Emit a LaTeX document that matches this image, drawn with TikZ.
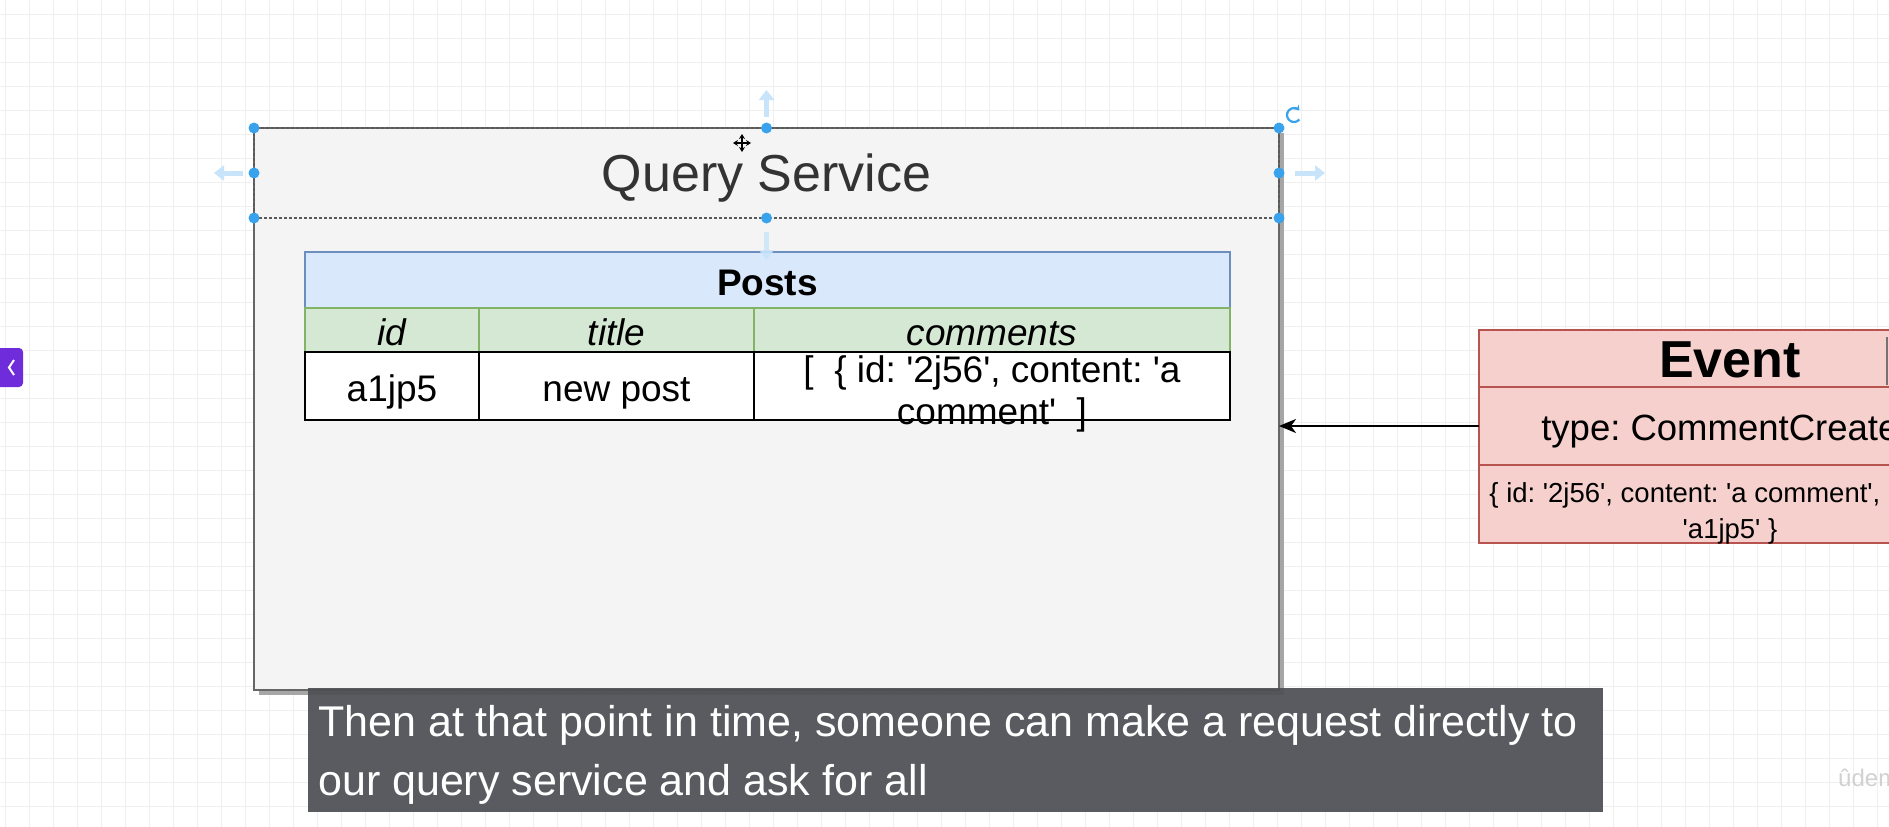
\documentclass[tikz,border=0pt]{standalone}
\usepackage{fontspec}
\setmainfont{Liberation Sans}[Ligatures=TeXOff]
\usetikzlibrary{positioning,arrows.meta,shadows}
\frenchspacing

\definecolor{gridgray}{RGB}{239,239,239}
\definecolor{swimfill}{RGB}{244,244,244}
\definecolor{swimline}{RGB}{102,102,102}
\definecolor{bluefill}{RGB}{218,232,252}
\definecolor{blueline}{RGB}{108,142,191}
\definecolor{greenfill}{RGB}{213,232,212}
\definecolor{greenline}{RGB}{130,179,102}
\definecolor{redfill}{RGB}{245,208,204}
\definecolor{redline}{RGB}{184,84,80}
\definecolor{handle}{RGB}{56,163,236}
\definecolor{hint}{RGB}{200,228,250}
\definecolor{capbg}{RGB}{78,79,84}
\definecolor{tabpurple}{RGB}{110,44,218}

\tikzset{
  cell/.style={draw,inner sep=0pt,outer sep=0pt,align=center,anchor=north west},
  celltext/.style={text height=31.5bp,text depth=0pt},
  posthead/.style={cell,celltext,fill=bluefill,draw=blueline,line width=1.5bp,font=\fontsize{37bp}{44bp}\selectfont\bfseries},
  colhead/.style={cell,celltext,fill=greenfill,draw=greenline,line width=1.5bp,font=\fontsize{37bp}{44bp}\selectfont\itshape},
  datacell/.style={cell,celltext,fill=white,draw=black,line width=2bp,font=\fontsize{37bp}{42bp}\selectfont},
  evpart/.style={cell,fill=redfill,draw=redline,line width=2bp},
  hintarrow/.style={hint,line width=5bp,-{Triangle[length=10bp,width=15bp]}},
}

\begin{document}
\frenchspacing
\begin{tikzpicture}[x=1bp,y=-1bp]
\useasboundingbox (0,0) rectangle (1889,827);
\clip (0,0) rectangle (1889,827);
\fill[white] (0,0) rectangle (1889,827);
% grid
\foreach \gx in {5,29,...,1889} \draw[gridgray,line width=1bp] (\gx,0) -- (\gx,827);
\foreach \gy in {14,38,...,827} \draw[gridgray,line width=1bp] (0,\gy) -- (1889,\gy);

% query service
\node[cell,fill=swimfill,draw=swimline,line width=2bp,minimum width=1025bp,minimum height=562bp,
  drop shadow={shadow xshift=5bp,shadow yshift=-5bp,fill=black!35,opacity=1}] (qs) at (254,128) {};
\node[cell,preaction={draw=black!22,line width=2.5bp},draw=black!65,dash pattern=on 3bp off 2bp,line width=1.5bp,
  minimum width=1025bp,minimum height=90bp,text height=37bp,text depth=0pt,
  text=black!80,font=\fontsize{52bp}{60bp}\selectfont] (qtitle) at (254,128) {Query Service};

% posts table
\node[posthead,minimum width=925bp,minimum height=56bp] (posts) at (305,252) {Posts};
\node[colhead,minimum width=174bp,minimum height=44bp] (hid) at (305,308) {id};
\node[colhead,minimum width=275bp,minimum height=44bp] (htitle) at (479,308) {title};
\node[colhead,minimum width=476bp,minimum height=44bp] (hcomments) at (754,308) {comments};
\node[datacell,minimum width=174bp,minimum height=68bp] (vid) at (305,352) {a1jp5};
\node[datacell,minimum width=275bp,minimum height=68bp] (vtitle) at (479,352) {new post};
\node[datacell,minimum width=476bp,minimum height=68bp] (vcomments) at (754,352) {};
\node[inner sep=0pt,align=center,font=\fontsize{37bp}{42bp}\selectfont,yshift=-8bp] (vctext) at (vcomments.center)
  {[\ \ \{ id: '2j56', content: 'a\\comment'\ \ ]};

% event
\node[evpart,minimum width=502bp,minimum height=57bp,text height=37.5bp,text depth=0pt,
  font=\fontsize{52bp}{60bp}\selectfont\bfseries] (evtitle) at (1479,330) {Event};
\node[evpart,minimum width=502bp,minimum height=78bp,text height=28bp,text depth=0pt,
  font=\fontsize{36.5bp}{42bp}\selectfont] (evtype) at (1479,387) {type: CommentCreated};
\node[evpart,minimum width=502bp,minimum height=78bp] (evdata) at (1479,465) {};
\node[inner sep=0pt,align=center,font=\fontsize{27.5bp}{36bp}\selectfont,yshift=-9bp] (evtext) at (evdata.center)
  {\{ id: '2j56', content: 'a comment', postId:\\'a1jp5' \}};
\draw[black!55,line width=2bp] (1887,337) -- (1887,385);

\draw[line width=2bp,-{Stealth[length=17bp,width=14bp,inset=5bp]}] (evtype.west) -- (evtype.west -| qs.east);

% selection handles
\draw[hintarrow] ([yshift=11bp]qtitle.north) -- ++(0,-27);
\draw[hintarrow] ([xshift=-11bp]qtitle.west) -- ++(-29,0);
\draw[hintarrow] ([xshift=16bp]qtitle.east) -- ++(30,0);
\draw[hintarrow,opacity=0.8] ([yshift=-14bp]qtitle.south) -- ++(0,28);
\foreach \a in {north west,north,north east,west,east,south west,south,south east}
  \fill[handle] (qtitle.\a) circle[radius=5.5bp];
\draw[handle,line width=2.2bp,-{Stealth[length=5bp,width=7bp]}] (1294,115) ++(40:7) arc[start angle=40,end angle=320,radius=7];
\draw[line width=1.6bp,{Stealth[length=5bp,width=6bp]}-{Stealth[length=5bp,width=6bp]}] (733,143) -- (751,143);
\draw[line width=1.6bp,{Stealth[length=5bp,width=6bp]}-{Stealth[length=5bp,width=6bp]}] (742,134) -- (742,152);

% side tab
\fill[tabpurple,rounded corners=4bp] (-8,348) rectangle (23,387);
\draw[white,line width=2bp] (14,360) -- (9,367.5) -- (14,375);

% caption
\node[cell,draw=none,fill=capbg,fill opacity=0.93,minimum width=1295bp,minimum height=124bp] (caption) at (308,688) {};
\node[anchor=base west,inner sep=0pt,text=white,font=\fontsize{43bp}{50bp}\selectfont] (capA) at (318,736)
  {Then at that point in time, someone can make a request directly to};
\node[anchor=base west,inner sep=0pt,text=white,font=\fontsize{43bp}{50bp}\selectfont] (capB) at (318,795)
  {our query service and ask for all};

\node[anchor=base west,inner sep=0pt,text=black!18,font=\fontsize{24bp}{28bp}\selectfont] (mark) at (1838,786) {ûdemy};
\end{tikzpicture}
\end{document}
